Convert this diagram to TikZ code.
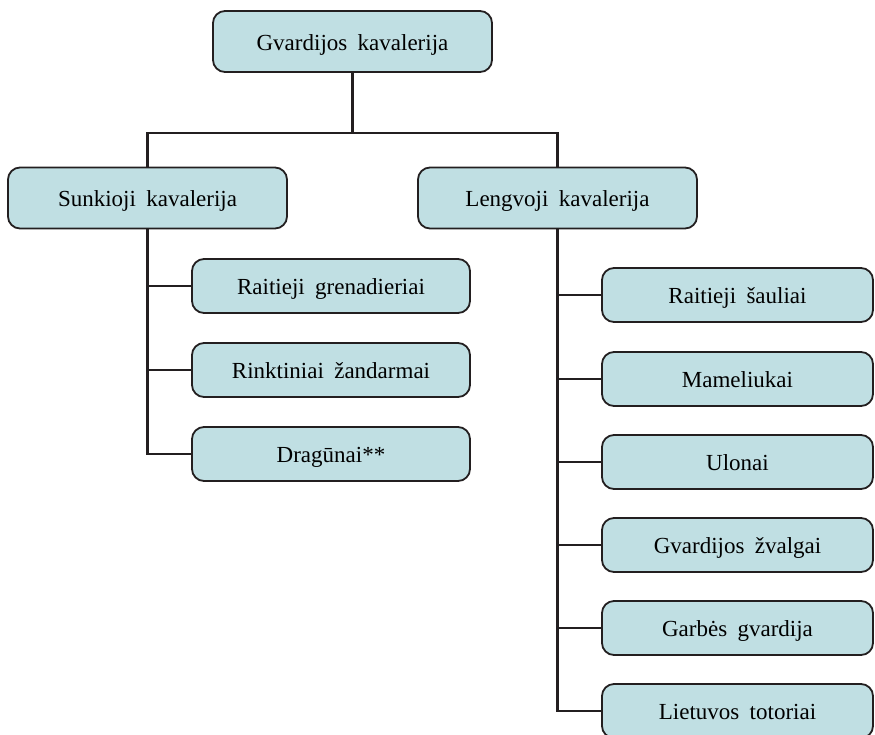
\documentclass[tikz,border=0pt]{standalone}
\usepackage{fontspec}
\setmainfont[WordSpace=1.8]{Liberation Serif}
\definecolor{boxfill}{HTML}{C0DFE3}
\definecolor{boxline}{HTML}{231F20}
\tikzset{
  unitbox/.style={draw=boxline, fill=boxfill, line width=1.8pt, rounded corners=12pt,
    minimum height=54pt, align=center, inner sep=0pt, text height=17pt, text depth=0pt,
    font=\fontsize{23}{25}\selectfont},
  headbox/.style={unitbox, minimum width=279pt, minimum height=61pt},
  leftbox/.style={unitbox, minimum width=278pt},
  rightbox/.style={unitbox, minimum width=271pt},
  link/.style={draw=boxline, line width=2.2pt}
}
\begin{document}
\begin{tikzpicture}[x=1pt,y=1pt]
  \useasboundingbox (0,0) rectangle (875,-734);

  \node [headbox] (gvard) at (352.5,-41.5) {Gvardijos kavalerija};
  \node [headbox] (sunk) at (147.5,-198) {Sunkioji kavalerija};
  \node [headbox] (leng) at (557.5,-198) {Lengvoji kavalerija};

  \node [leftbox] (gren) at (331,-286) {Raitieji grenadieriai};
  \node [leftbox] (zand) at (331,-370) {Rinktiniai žandarmai};
  \node [leftbox] (drag) at (331,-454) {Dragūnai**};

  \node [rightbox] (saul) at (737.5,-295) {Raitieji šauliai};
  \node [rightbox] (mam)  at (737.5,-379) {Mameliukai};
  \node [rightbox] (ulon) at (737.5,-462) {Ulonai};
  \node [rightbox] (zval) at (737.5,-545) {Gvardijos žvalgai};
  \node [rightbox] (garb) at (737.5,-628) {Garbės gvardija};
  \node [rightbox] (tot)  at (737.5,-711) {Lietuvos totoriai};

  % top level
  \coordinate (bar) at (0,-133);
  \draw [link] (gvard.south) -- (gvard.south |- bar);
  \draw [link] (sunk.north) -- (sunk.north |- bar) -- (leng.north |- bar) -- (leng.north);

  % heavy cavalry
  \draw [link] (sunk.south) |- (drag.west);
  \draw [link] (sunk.south |- gren.west) -- (gren.west);
  \draw [link] (sunk.south |- zand.west) -- (zand.west);

  % light cavalry
  \draw [link] (leng.south) |- (tot.west);
  \foreach \n in {saul,mam,ulon,zval,garb}
    \draw [link] (leng.south |- \n.west) -- (\n.west);
\end{tikzpicture}
\end{document}
